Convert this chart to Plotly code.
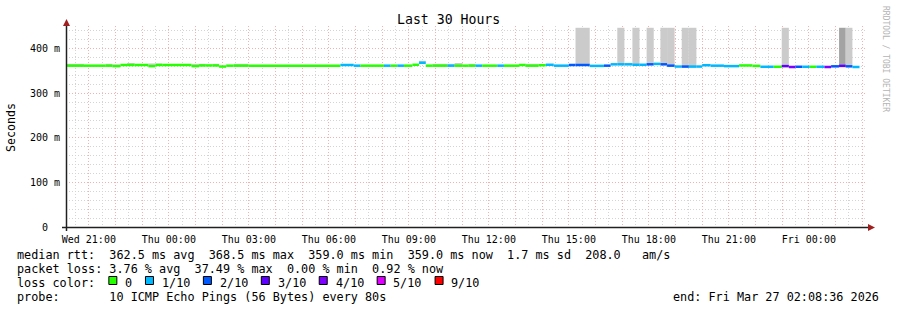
import plotly.graph_objects as go
import pandas as pd

# ---------------- data ----------------
seg_start = [
    "2026-03-25 20:11", "2026-03-25 20:49", "2026-03-25 21:38", "2026-03-25 21:53",
    "2026-03-25 22:11", "2026-03-25 22:26", "2026-03-25 22:43", "2026-03-25 23:14",
    "2026-03-25 23:30", "2026-03-25 23:45", "2026-03-26 00:51", "2026-03-26 01:08",
    "2026-03-26 01:23", "2026-03-26 01:38", "2026-03-26 01:53", "2026-03-26 02:09",
    "2026-03-26 02:26", "2026-03-26 02:59", "2026-03-26 06:26", "2026-03-26 06:56",
    "2026-03-26 07:11", "2026-03-26 08:04", "2026-03-26 08:19", "2026-03-26 08:34",
    "2026-03-26 08:49", "2026-03-26 09:08", "2026-03-26 09:23", "2026-03-26 09:38",
    "2026-03-26 09:53", "2026-03-26 10:27", "2026-03-26 10:43", "2026-03-26 11:01",
    "2026-03-26 11:14", "2026-03-26 11:30", "2026-03-26 11:45", "2026-03-26 12:19",
    "2026-03-26 12:34", "2026-03-26 13:08", "2026-03-26 13:23", "2026-03-26 13:52",
    "2026-03-26 14:08", "2026-03-26 14:26", "2026-03-26 15:00", "2026-03-26 15:15",
    "2026-03-26 15:47", "2026-03-26 16:19", "2026-03-26 16:34", "2026-03-26 16:49",
    "2026-03-26 17:05", "2026-03-26 17:23", "2026-03-26 17:39", "2026-03-26 17:55",
    "2026-03-26 18:11", "2026-03-26 18:26", "2026-03-26 18:41", "2026-03-26 18:58",
    "2026-03-26 19:14", "2026-03-26 19:30", "2026-03-26 19:47", "2026-03-26 20:00",
    "2026-03-26 20:19", "2026-03-26 20:49", "2026-03-26 21:23", "2026-03-26 21:53",
    "2026-03-26 22:11", "2026-03-26 22:41", "2026-03-26 22:59", "2026-03-26 23:15",
    "2026-03-26 23:30", "2026-03-26 23:45", "2026-03-27 00:02", "2026-03-27 00:17",
    "2026-03-27 00:35", "2026-03-27 00:50", "2026-03-27 01:08", "2026-03-27 01:23",
    "2026-03-27 01:38",
]
last_seg_end = "2026-03-27 01:54"

median_ms = [
    362, 362, 362, 361, 363.5, 363.5, 363.5, 361, 363.5, 363.5, 361, 362.5,
    362.5, 362.5, 360, 362, 362, 362, 363.5, 362, 362, 362, 362, 362,
    362, 364, 368.5, 362, 362, 362, 362, 362, 362, 362, 362, 362,
    362, 363.5, 362, 363, 364, 362, 363.5, 363.5, 361.5, 362, 365, 365,
    365, 364, 364, 365, 366, 365, 362, 360, 360, 360, 360, 363,
    362, 361, 362.5, 361.5, 359.5, 359.5, 361, 359, 359.5, 359.5, 359.5, 359.5,
    359, 360.5, 361.5, 360.5, 359,
]
loss_of_10 = [
    0, 0, 0, 0, 0, 0, 0, 0, 0, 0, 0, 0,
    0, 0, 0, 0, 0, 0, 1, 1, 0, 1, 0, 1,
    0, 0, 1, 0, 0, 1, 0, 0, 0, 1, 0, 1,
    0, 0, 0, 0, 1, 1, 2, 2, 1, 2, 1, 1,
    1, 1, 1, 2, 1, 2, 2, 1, 2, 1, 1, 1,
    1, 1, 0, 0, 1, 0, 3, 4, 2, 1, 0, 1,
    4, 2, 3, 2, 1,
]
smoke_min_ms = [
    361, None, 361, 360, None, 362, None, 360, 362, None, 360, 361,
    None, 361, None, None, 361, None, None, None, None, None, None, None,
    None, None, 367, None, 361, 361, 361, None, 361, None, None, None,
    None, None, 361, None, None, None, None, 362, None, None, None, 364,
    None, 363, None, 364, None, 364, 361, None, 357, 357, None, None,
    None, None, None, None, None, None, 360, None, None, None, None, None,
    None, None, 360, 359, None,
]
smoke_max_ms = [
    366, None, 366, 365, None, 368, None, 367, 367, None, 366, 366,
    None, 366, None, None, 366, None, None, None, None, None, None, None,
    None, None, 373, None, 366, 366, 368, None, 366, None, None, None,
    None, None, 366, None, None, None, None, 447, None, None, None, 447,
    None, 447, None, 447, None, 447, 447, None, 447, 447, None, None,
    None, None, None, None, None, None, 447, None, None, None, None, None,
    None, None, 447, 447, None,
]
# pings falling in the upper smoke band (more pings -> darker smoke)
upper_pings = [
    1, 0, 1, 1, 0, 1, 0, 1, 1, 0, 1, 1,
    0, 1, 0, 0, 1, 0, 0, 0, 0, 0, 0, 0,
    0, 0, 1, 0, 1, 1, 1, 0, 1, 0, 0, 0,
    0, 0, 1, 0, 0, 0, 0, 1, 0, 0, 0, 1,
    0, 1, 0, 1, 0, 1, 1, 0, 1, 1, 0, 0,
    0, 0, 0, 0, 0, 0, 1, 0, 0, 0, 0, 0,
    0, 0, 2, 1, 0,
]

loss_levels = [0, 1, 2, 3, 4, 5, 9]
loss_labels = ["0", "1/10", "2/10", "3/10", "4/10", "5/10", "9/10"]
loss_colors = ["#26ff00", "#00b8ff", "#0059ff", "#5e00ff", "#7e00ff", "#dd00ff", "#ff0000"]

x_label_times = ["2026-03-25 21:00", "2026-03-26 00:00", "2026-03-26 03:00",
                 "2026-03-26 06:00", "2026-03-26 09:00", "2026-03-26 12:00",
                 "2026-03-26 15:00", "2026-03-26 18:00", "2026-03-26 21:00",
                 "2026-03-27 00:00"]
x_labels = ["Wed 21:00", "Thu 00:00", "Thu 03:00", "Thu 06:00", "Thu 09:00",
            "Thu 12:00", "Thu 15:00", "Thu 18:00", "Thu 21:00", "Fri 00:00"]
y_tick_vals = [0, 100, 200, 300, 400]
y_tick_text = ["0\u00a0\u00a0", "100 m", "200 m", "300 m", "400 m"]

window = ["2026-03-25 20:08:36", "2026-03-27 02:08:36"]

legend_lines = [
    "median rtt:  362.5 ms avg  368.5 ms max  359.0 ms min  359.0 ms now  1.7 ms sd  208.0   am/s",
    "packet loss: 3.76 % avg  37.49 % max  0.00 % min  0.92 % now",
    "loss color:",
    "probe:       10 ICMP Echo Pings (56 Bytes) every 80s",
]
end_text = "end: Fri Mar 27 02:08:36 2026"

# ---------------- geometry ----------------
W_PX, H_PX = 897, 310
L, T, PW, PH = 66, 26, 800, 201
MONO = "DejaVu Sans Mono"


def px(x):
    return (x - L) / PW


def py(y):
    return (T + PH - y) / PH


def color_for_loss(n):
    c = loss_colors[0]
    for lv, col in zip(loss_levels, loss_colors):
        if n >= lv:
            c = col
    return c


starts = pd.to_datetime(pd.Series(seg_start))
ends = pd.to_datetime(pd.Series(seg_start[1:] + [last_seg_end]))
mids = starts + (ends - starts) / 2
widths = ((ends - starts).dt.total_seconds() * 1000).tolist()
mid_str = [m.strftime("%Y-%m-%d %H:%M:%S") for m in mids]

fig = go.Figure()

# smoke
sx, sy, sb, sw, sc = [], [], [], [], []
for i in range(len(seg_start)):
    if smoke_min_ms[i] is None:
        continue
    sx.append(mid_str[i])
    sb.append(smoke_min_ms[i])
    sy.append(smoke_max_ms[i] - smoke_min_ms[i])
    sw.append(widths[i])
    sc.append("#a3a3a3" if upper_pings[i] > 1 else "#cbcbcb")
fig.add_trace(go.Bar(x=sx, y=sy, base=sb, width=sw, marker=dict(color=sc, line=dict(width=0)),
                     hoverinfo="skip", showlegend=False))

# median line coloured by loss
LINE_MS = 5.6
fig.add_trace(go.Bar(
    x=mid_str, y=[LINE_MS] * len(median_ms), base=[m - LINE_MS / 2 for m in median_ms],
    width=widths, marker=dict(color=[color_for_loss(l) for l in loss_of_10], line=dict(width=0)),
    hoverinfo="skip", showlegend=False))

hours = pd.date_range("2026-03-25 21:00", "2026-03-27 02:00", freq="h")
lbl = dict(zip(pd.to_datetime(x_label_times), x_labels))
tickvals = [h.strftime("%Y-%m-%d %H:%M:%S") for h in hours]
ticktext = [lbl.get(h, "") for h in hours]

DOT = "1px,2px"
MAJ = "#f4b0b0"
MIN = "#d4d4d4"
fig.update_layout(
    width=W_PX, height=H_PX,
    margin=dict(l=L, r=W_PX - L - PW, t=T, b=H_PX - T - PH),
    paper_bgcolor="white", plot_bgcolor="white",
    barmode="overlay", showlegend=False, hovermode=False,
    font=dict(family=MONO, color="black"),
    xaxis=dict(
        type="date", range=window, tickmode="array", tickvals=tickvals, ticktext=ticktext,
        showgrid=True, gridcolor=MAJ, griddash=DOT, gridwidth=1,
        minor=dict(dtick=1800000, tick0="2026-03-25 20:30", showgrid=True,
                   gridcolor=MIN, griddash=DOT, gridwidth=1),
        showline=False, zeroline=False, ticks="", ticklabelstandoff=5,
        tickfont=dict(family=MONO, size=10, color="black"),
        fixedrange=True,
    ),
    yaxis=dict(
        range=[0, 451], tickmode="array", tickvals=y_tick_vals, ticktext=y_tick_text,
        showgrid=True, gridcolor=MAJ, griddash=DOT, gridwidth=1,
        minor=dict(dtick=20, tick0=0, showgrid=True, gridcolor=MIN, griddash=DOT, gridwidth=1),
        showline=False, zeroline=False, ticks="", ticklabelstandoff=5,
        tickfont=dict(family=MONO, size=10, color="black"),
        fixedrange=True,
    ),
)

shapes = []
AX = "#202020"
ARROW = "#a02020"
# axes
shapes.append(dict(type="line", xref="paper", yref="paper", x0=px(62), x1=px(869), y0=py(227.5), y1=py(227.5),
                   line=dict(color=AX, width=1.5)))
shapes.append(dict(type="line", xref="paper", yref="paper", x0=px(66.5), x1=px(66.5), y0=py(231), y1=py(24),
                   line=dict(color=AX, width=1.5)))
# arrows
shapes.append(dict(type="path", xref="paper", yref="paper",
                   path=f"M {px(875)},{py(227.5)} L {px(868)},{py(224)} L {px(868)},{py(231)} Z",
                   fillcolor=ARROW, line=dict(width=0)))
shapes.append(dict(type="path", xref="paper", yref="paper",
                   path=f"M {px(66.5)},{py(19)} L {px(63)},{py(26)} L {px(70)},{py(26)} Z",
                   fillcolor=ARROW, line=dict(width=0)))

annotations = []
FS = 11.8
CW = FS * 0.602
line_y = [255, 269, 283, 297]
for txt, y in zip(legend_lines, line_y):
    annotations.append(dict(text=txt.replace(" ", "\u00a0"), xref="paper", yref="paper", x=px(16), y=py(y),
                            xanchor="left", yanchor="middle", showarrow=False, borderpad=0,
                            font=dict(family=MONO, size=FS, color="black")))
# loss colour legend entries
bx = 16 + 13 * CW + 0.5
for lab, col in zip(loss_labels, loss_colors):
    shapes.append(dict(type="rect", xref="paper", yref="paper", x0=px(bx), x1=px(bx + 8),
                       y0=py(276.5), y1=py(284.5), fillcolor=col, line=dict(color="black", width=1)))
    annotations.append(dict(text=lab, xref="paper", yref="paper", x=px(bx + 15.3), y=py(line_y[2]),
                            xanchor="left", yanchor="middle", showarrow=False, borderpad=0,
                            font=dict(family=MONO, size=FS, color="black")))
    bx += 15.3 + CW * len(lab) + 2 * CW

annotations.append(dict(text=end_text, xref="paper", yref="paper", x=px(880), y=py(line_y[3]),
                        xanchor="right", yanchor="middle", showarrow=False, borderpad=0,
                        font=dict(family=MONO, size=FS, color="black")))
# title
annotations.append(dict(text="Last 30 Hours", xref="paper", yref="paper", x=px(448), y=py(19),
                        xanchor="center", yanchor="middle", showarrow=False, borderpad=0,
                        font=dict(family=MONO, size=13.2, color="black")))
# y label
annotations.append(dict(text="Seconds", xref="paper", yref="paper", x=px(11), y=py(127),
                        xanchor="center", yanchor="middle", textangle=-90, showarrow=False, borderpad=0,
                        font=dict(family=MONO, size=11.6, color="black")))
# watermark
annotations.append(dict(text="RRDTOOL / TOBI OETIKER", xref="paper", yref="paper", x=px(886), y=py(59),
                        xanchor="center", yanchor="middle", textangle=90, showarrow=False, borderpad=0,
                        font=dict(family=MONO, size=8, color="#b4b4b4")))

fig.update_layout(shapes=shapes, annotations=annotations)
fig.write_html("out.html", config={"displayModeBar": False})
